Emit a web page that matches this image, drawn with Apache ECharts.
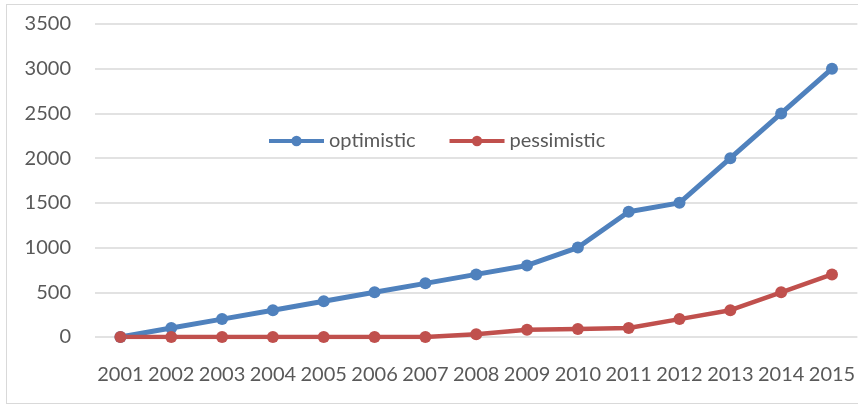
<!DOCTYPE html>
<html>
<head>
<meta charset="utf-8">
<script src="https://cdn.jsdelivr.net/npm/echarts@6/dist/echarts.min.js"></script>
<style>
  html, body { margin: 0; padding: 0; background: #fff; }
  #frame { position: absolute; left: 6px; top: 4px; width: 900px; height: 398px; border: 1px solid #d9d9d9; }
  #chart { position: absolute; left: 0; top: 0; width: 858px; height: 405px; }
</style>
</head>
<body>
<div id="frame"></div>
<div id="chart"></div>
<script>
// years on the x axis
const years = ['2001', '2002', '2003', '2004', '2005', '2006', '2007', '2008',
  '2009', '2010', '2011', '2012', '2013', '2014', '2015']

const optimistic = [0, 100, 200, 300, 400, 500, 600, 700, 800, 1000, 1400, 1500, 2000, 2500, 3000]
const pessimistic = [0, 0, 0, 0, 0, 0, 0, 30, 80, 90, 100, 200, 300, 500, 700]

const yTicks = [0, 500, 1000, 1500, 2000, 2500, 3000, 3500]

const font = 'Lato, "Open Sans", sans-serif'
const textColor = '#595959'

const myChart = echarts.init(document.getElementById('chart'))

const option = {
  animation: false,
  textStyle: { fontFamily: font },
  legend: {
    left: 262,
    top: 126,
    itemWidth: 55,
    itemHeight: 13,
    itemGap: 32,
    lineStyle: { width: 4 },
    textStyle: { fontSize: 20, color: textColor, fontFamily: font },
    data: ['optimistic', 'pessimistic']
  },
  grid: {
    left: 95,
    top: 24,
    width: 768,
    height: 313
  },
  xAxis: {
    type: 'category',
    data: years,
    boundaryGap: true,
    axisLine: { show: false },
    axisTick: { show: false },
    axisLabel: {
      fontSize: 20,
      color: textColor,
      margin: 28,
      interval: 0,
      fontFamily: font
    }
  },
  yAxis: {
    type: 'value',
    min: yTicks[0],
    max: yTicks[yTicks.length - 1],
    interval: 500,
    axisLine: { show: false },
    axisTick: { show: false },
    axisLabel: {
      fontSize: 20,
      color: textColor,
      margin: 24,
      fontFamily: font,
      formatter: v => String(v)
    },
    splitLine: { lineStyle: { color: '#d9d9d9', width: 1.5 } }
  },
  series: [
    {
      name: 'optimistic',
      type: 'line',
      data: optimistic,
      symbol: 'circle',
      symbolSize: 12,
      itemStyle: { color: '#4F81BD' },
      lineStyle: { width: 5, color: '#4F81BD' }
    },
    {
      name: 'pessimistic',
      type: 'line',
      data: pessimistic,
      symbol: 'circle',
      symbolSize: 12,
      itemStyle: { color: '#C0504D' },
      lineStyle: { width: 4.5, color: '#C0504D' }
    }
  ]
}

myChart.setOption(option)
</script>
</body>
</html>
